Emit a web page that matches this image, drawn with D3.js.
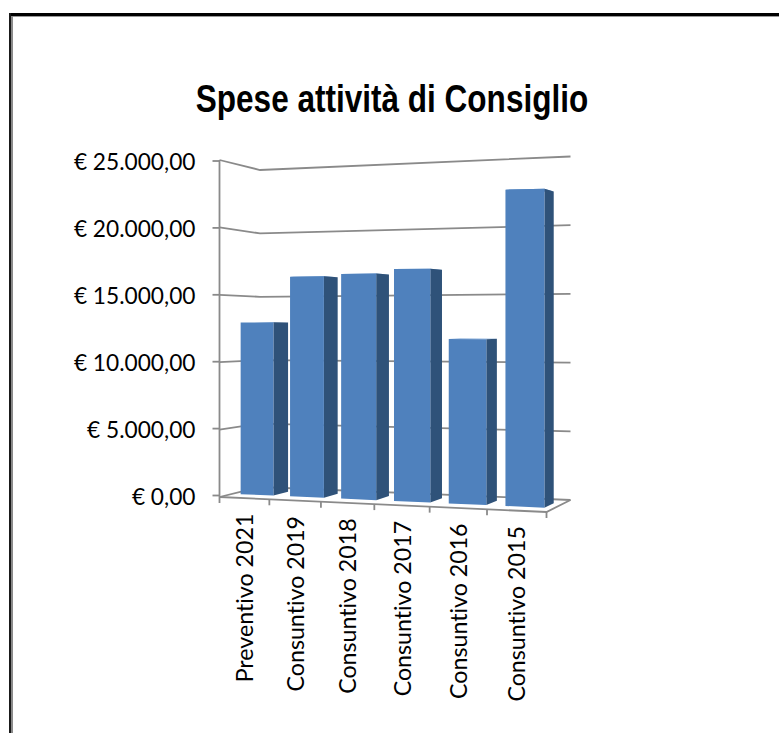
<!DOCTYPE html>
<html>
<head>
<meta charset="utf-8">
<script src="https://cdn.jsdelivr.net/npm/d3@7"></script>
<style>
  html, body { margin: 0; padding: 0; background: #fff; }
  svg { display: block; }
  text { font-family: Lato, sans-serif; fill: #000; font-variant-ligatures: none; }
</style>
</head>
<body>
<svg id="chart" width="779" height="733"></svg>
<script>
const title = 'Spese attività di Consiglio'
const categories = ['Preventivo 2021', 'Consuntivo 2019', 'Consuntivo 2018', 'Consuntivo 2017', 'Consuntivo 2016', 'Consuntivo 2015']
const values = [12950, 16350, 16500, 16800, 11750, 22320]
const ticks = [0, 5000, 10000, 15000, 20000, 25000]

const svg = d3.select('#chart')

// picture frame, only top and left are visible
svg.append('rect').attr('x', 9).attr('y', 13).attr('width', 770).attr('height', 3).attr('fill', '#000')
svg.append('rect').attr('x', 9).attr('y', 13).attr('width', 2).attr('height', 720).attr('fill', '#1a1a1a')
svg.append('rect').attr('x', 11).attr('y', 16).attr('width', 768).attr('height', 1).attr('fill', '#999')
svg.append('rect').attr('x', 11).attr('y', 16).attr('width', 2).attr('height', 717).attr('fill', '#8a8a8a')

svg.append('text')
  .attr('transform', 'translate(392,112) scale(0.83,1)')
  .attr('text-anchor', 'middle')
  .style('font-family', 'Liberation Sans')
  .style('font-weight', 700)
  .style('font-size', '38px')
  .text(title)

// unit square -> quad, used for the floor and the 25000 plane of the 3d box
function quad(p00, p10, p11, p01) {
  const dx1 = p10[0] - p11[0], dx2 = p01[0] - p11[0], sx = p00[0] - p10[0] + p11[0] - p01[0]
  const dy1 = p10[1] - p11[1], dy2 = p01[1] - p11[1], sy = p00[1] - p10[1] + p11[1] - p01[1]
  const den = dx1 * dy2 - dx2 * dy1
  const g = (sx * dy2 - dx2 * sy) / den
  const h = (dx1 * sy - sx * dy1) / den
  const a = p10[0] - p00[0] + g * p10[0], b = p01[0] - p00[0] + h * p01[0]
  const d = p10[1] - p00[1] + g * p10[1], e = p01[1] - p00[1] + h * p01[1]
  return (u, t) => {
    const w = g * u + h * t + 1
    return [(a * u + b * t + p00[0]) / w, (d * u + e * t + p00[1]) / w]
  }
}

const floor = quad([219.5, 497], [546.5, 512], [570.5, 500], [260, 487])
const roof = quad([219.5, 160], [546.5, 147], [570.5, 156.5], [260, 170])

const u = d3.scaleBand().domain(categories).range([0, 1]).paddingInner(1 / 3).paddingOuter(1 / 6)
const cell = d3.scaleLinear().domain([0, categories.length]).range([0, 1])
const y = d3.scaleLinear().domain([0, 25000]).range([0, 1])
const depth = d3.scaleLinear().domain([0, 1]).range([0.31, 0.69])

function project(a, t, v) {
  const f = floor(a, t), r = roof(a, t)
  return [f[0], f[1] + (r[1] - f[1]) * y(v)]
}

const line = d3.line()
const gridColor = '#8a8a8a', gridWidth = 1.8

// walls and floor
const grid = svg.append('g').attr('fill', 'none').attr('stroke', gridColor).attr('stroke-width', gridWidth)
ticks.forEach(v => {
  grid.append('path').attr('d', line([project(0, 0, v), project(0, 1, v), project(1, 1, v)]))
})
grid.append('path').attr('d', line([project(0, 0, 0), project(1, 0, 0), project(1, 1, 0)]))
d3.range(categories.length + 1).forEach(i => {
  const p = project(cell(i), 0, 0)
  grid.append('path').attr('d', line([p, [p[0], p[1] + 6]]))
})

// value axis
const yAxis = d3.scaleLinear().domain([0, 25000]).range([495, 160.5])
const euro = d3.formatLocale({ decimal: ',', thousands: '.', grouping: [3], currency: ['€ ', ''] })
const axisG = svg.append('g').attr('transform', 'translate(219.5,0)')
  .call(d3.axisLeft(yAxis).tickValues(ticks).tickFormat(euro.format('$,.2f')).tickSize(7).tickPadding(17))
axisG.select('.domain').remove()
axisG.selectAll('line').attr('stroke', gridColor).attr('stroke-width', gridWidth)
axisG.selectAll('text').style('font-family', 'Lato').style('font-size', '22.7px').attr('fill', '#000').attr('y', 2)
svg.append('path').attr('d', line([[219.5, 160], [219.5, 497]]))
  .attr('stroke', gridColor).attr('stroke-width', gridWidth)

// bars
const bars = svg.append('g')
categories.forEach((c, i) => {
  const u0 = u(c), u1 = u0 + u.bandwidth(), d0 = depth(0), d1 = depth(1), v = values[i]
  const g = bars.append('g')
  g.append('path').attr('fill', '#6d9bd1')
    .attr('d', line([project(u0, d0, v), project(u1, d0, v), project(u1, d1, v), project(u0, d1, v)]) + 'Z')
  g.append('path').attr('fill', '#2f5279')
    .attr('d', line([project(u1, d0, 0), project(u1, d1, 0), project(u1, d1, v), project(u1, d0, v)]) + 'Z')
  g.append('path').attr('fill', '#4f81bd')
    .attr('d', line([project(u0, d0, 0), project(u1, d0, 0), project(u1, d0, v), project(u0, d0, v)]) + 'Z')
})

// category labels
categories.forEach((c, i) => {
  const p = project(cell(i + 0.5), 0, 0)
  svg.append('text')
    .attr('transform', `translate(${p[0] + 9},${p[1] + 15.5}) rotate(-90)`)
    .attr('text-anchor', 'end')
    .style('font-size', '23.2px')
    .text(c)
})
</script>
</body>
</html>
